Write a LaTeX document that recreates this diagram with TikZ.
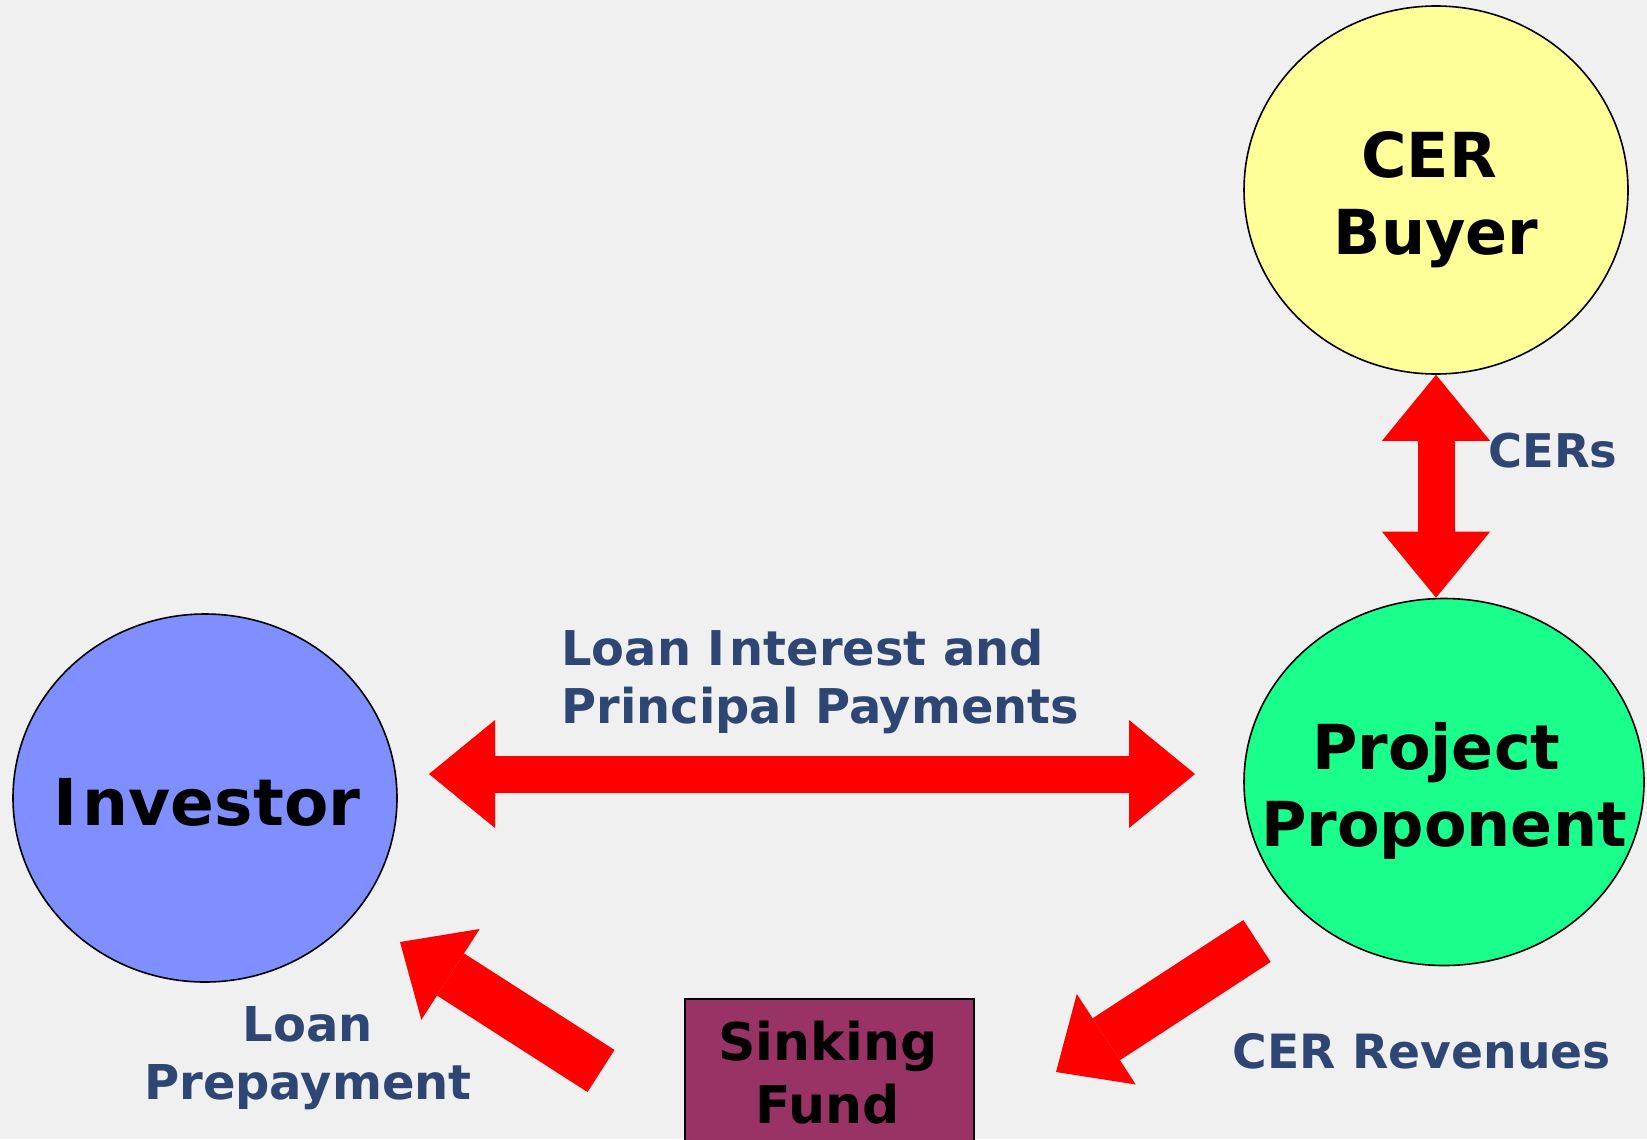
\documentclass[tikz,border=0pt]{standalone}
\usepackage{fontspec}
\newfontfamily\vb{DejaVu Sans Bold}
\usetikzlibrary{arrows.meta,calc,shapes.geometric}
\definecolor{bgcol}{HTML}{F0F0F0}
\definecolor{buyercol}{HTML}{FFFF99}
\definecolor{ppcol}{HTML}{1AFF8C}
\definecolor{invcol}{HTML}{7F8FFF}
\definecolor{sfcol}{HTML}{993366}
\definecolor{lblcol}{HTML}{2E4674}
\definecolor{arrcol}{HTML}{FF0000}
\begin{document}
\begin{tikzpicture}[x=0.5pt,y=-0.5pt,
  ell/.style={ellipse, draw=black, line width=0.8pt, inner sep=0pt},
  bigtext/.style={font=\vb\fontsize{31}{38.5}\selectfont, text=black, align=center, inner sep=0pt},
  sftext/.style={font=\vb\fontsize{26}{31.5}\selectfont, text=black, align=center, inner sep=0pt},
  lbl/.style={font=\vb\fontsize{23.6}{29}\selectfont, text=lblcol, inner sep=0pt},
  thinfat/.style={draw=arrcol, line width=18.5pt,
    {Triangle[length=33pt,width=54pt,line width=0pt]}-{Triangle[length=33pt,width=54pt,line width=0pt]}},
  widefat/.style={draw=arrcol, line width=25pt,
    -{Triangle[length=30pt,width=54pt,line width=0pt]}}]
\useasboundingbox (0,0) rectangle (1647,1139);
\fill[bgcol] (0,0) rectangle (1647,1139);

% shapes
\node[ell, fill=buyercol, minimum width=192pt, minimum height=184pt] (buyer) at (1436,190) {};
\node[ell, fill=ppcol, minimum width=200pt, minimum height=183.5pt] (pp) at (1444,782) {};
\node[ell, fill=invcol, minimum width=192pt, minimum height=184pt] (inv) at (205,798) {};
\node[draw=black, line width=0.8pt, fill=sfcol, minimum width=144.5pt, minimum height=90pt,
      anchor=north west, inner sep=0pt] (sf) at (684,998) {};

% texts in shapes (anchor=base is the baseline of the last line)
\node[bigtext, anchor=base] (buyertxt) at (1436,255) {\hspace*{-0.22em}CER\\Buyer};
\node[bigtext, anchor=base, font=\vb\fontsize{32.3}{38}\selectfont] (invtxt) at (207,825) {I\kern0.08em nvestor};
\node[bigtext, anchor=base] (pptxt) at (1444,846) {\hspace*{-0.25em}Project\\Proponent};
\node[sftext, anchor=base] (sftxt) at (828,1123) {Sinking\\Fund};

% connectors
\coordinate (hl) at (429,774);
\coordinate (hr) at (1195,774);
\draw[thinfat] (hl) -- (hr);
\draw[thinfat] (buyer.south) -- (buyer.south |- pp.north);
\coordinate (revtail) at (1257,941);
\coordinate (revtip) at (1056,1072);
\draw[widefat] (revtail) -- (revtip);
\coordinate (preptail) at (601,1071);
\coordinate (preptip) at (400,942);
\draw[widefat] (preptail) -- (preptip);

% labels
\node[lbl, anchor=base west, align=left, font=\vb\fontsize{23.95}{29}\selectfont] (loanlbl) at (561,723) {Loan I\kern0.08em nterest and\\Principal Payments};
\node[lbl, anchor=base west, font=\vb\fontsize{23.2}{29}\selectfont] (cerslbl) at (1488,467) {CERs};
\node[lbl, anchor=base, align=center, font=\vb\fontsize{24}{29}\selectfont] (preplbl) at (308,1099) {Loan\\Prepayment};
\node[lbl, anchor=base] (revlbl) at (1422,1068) {CER Revenues};
\end{tikzpicture}
\end{document}
